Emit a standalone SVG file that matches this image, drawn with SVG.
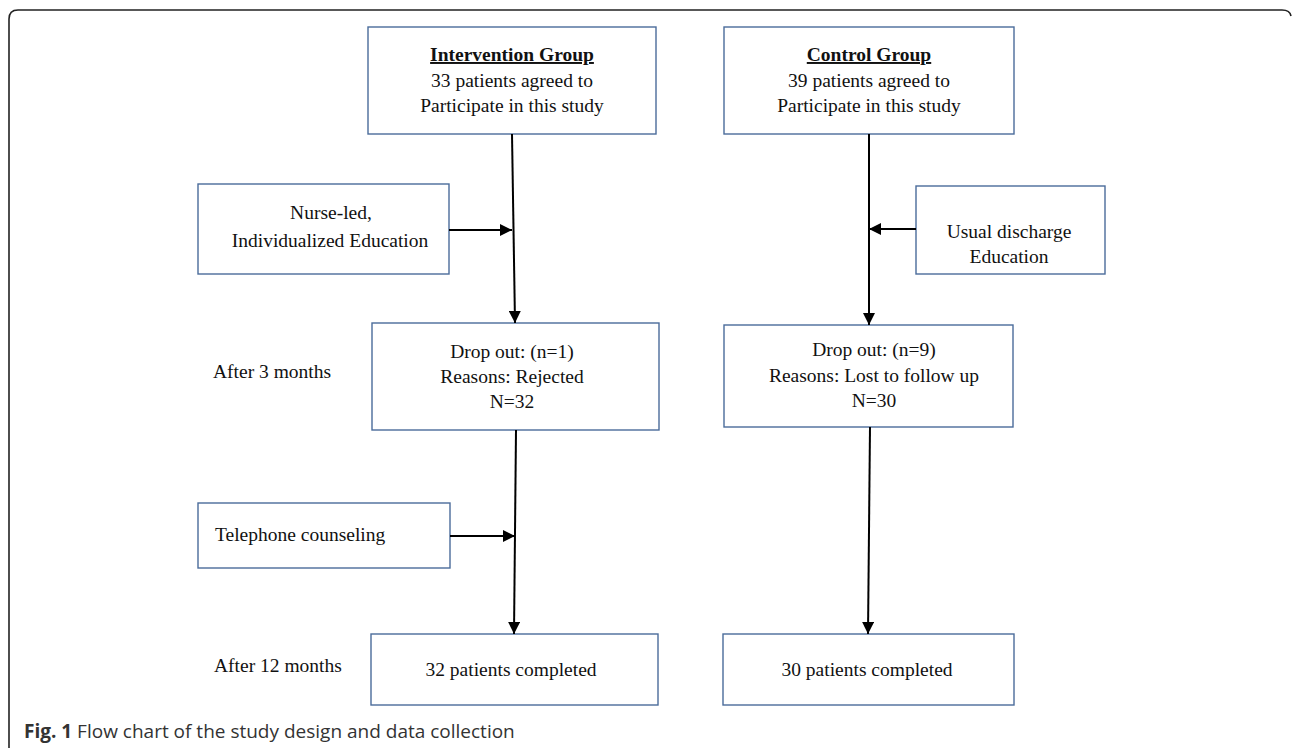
<svg xmlns="http://www.w3.org/2000/svg" width="1292" height="748" viewBox="0 0 1292 748">
<defs>
<style>
.box{fill:#fff;stroke:#4a6c9b;stroke-width:1.4}
.t{font-family:"Liberation Serif","Times New Roman",serif;font-size:19.5px;fill:#111}
.c{text-anchor:middle}
.ln{stroke:#000;stroke-width:2;fill:none}
.cap{font-family:"Open Sans","Noto Sans",sans-serif;font-size:19px;fill:#333}
</style>
<marker id="ah" viewBox="0 0 10 10" refX="10" refY="5" markerWidth="12" markerHeight="12" markerUnits="userSpaceOnUse" orient="auto">
<path d="M0,0 L10,5 L0,10 z" fill="#000"/>
</marker>
</defs>
<rect width="1292" height="748" fill="#fff"/>
<path d="M9,760 L9,19 Q9,10 18,10 L1282,10 Q1290,10 1291,16" fill="none" stroke="#222" stroke-width="1.6"/>

<g id="intervention">
<rect class="box" x="368" y="27" width="288" height="107"/>
<text class="t c" x="512" y="61" font-weight="bold" text-decoration="underline">Intervention Group</text>
<text class="t c" x="512" y="87">33 patients agreed to</text>
<text class="t c" x="512" y="112">Participate in this study</text>
</g>
<g id="control">
<rect class="box" x="724" y="27" width="290" height="107"/>
<text class="t c" x="869" y="61" font-weight="bold" text-decoration="underline">Control Group</text>
<text class="t c" x="869" y="87">39 patients agreed to</text>
<text class="t c" x="869" y="112">Participate in this study</text>
</g>
<g id="nurse">
<rect class="box" x="198" y="184" width="251" height="90"/>
<text class="t c" x="331" y="219">Nurse-led,</text>
<text class="t c" x="330" y="247">Individualized Education</text>
</g>
<g id="usual">
<rect class="box" x="916" y="186" width="189" height="88"/>
<text class="t c" x="1009" y="238">Usual discharge</text>
<text class="t c" x="1009" y="263">Education</text>
</g>
<g id="label3">
<text class="t" x="213" y="378">After 3 months</text>
</g>
<g id="drop1">
<rect class="box" x="372" y="323" width="287" height="107"/>
<text class="t c" x="512" y="358">Drop out: (n=1)</text>
<text class="t c" x="512" y="383">Reasons: Rejected</text>
<text class="t c" x="512" y="408">N=32</text>
</g>
<g id="drop9">
<rect class="box" x="724" y="325" width="289" height="102"/>
<text class="t c" x="874" y="356">Drop out: (n=9)</text>
<text class="t c" x="874" y="382">Reasons: Lost to follow up</text>
<text class="t c" x="874" y="407">N=30</text>
</g>
<g id="telephone">
<rect class="box" x="198" y="503" width="252" height="65"/>
<text class="t" x="215" y="541">Telephone counseling</text>
</g>
<g id="label12">
<text class="t" x="214" y="672">After 12 months</text>
</g>
<g id="complete1">
<rect class="box" x="371" y="634" width="287" height="71"/>
<text class="t c" x="511" y="676">32 patients completed</text>
</g>
<g id="complete2">
<rect class="box" x="723" y="634" width="291" height="71"/>
<text class="t c" x="867" y="676">30 patients completed</text>
</g>

<g id="connectors">
<line class="ln" x1="512" y1="134" x2="515" y2="323" marker-end="url(#ah)"/>
<line class="ln" x1="449" y1="230" x2="512" y2="230" marker-end="url(#ah)"/>
<line class="ln" x1="869" y1="134" x2="869" y2="325" marker-end="url(#ah)"/>
<line class="ln" x1="916" y1="229" x2="869" y2="229" marker-end="url(#ah)"/>
<line class="ln" x1="516" y1="430" x2="514" y2="634" marker-end="url(#ah)"/>
<line class="ln" x1="450" y1="536" x2="515" y2="536" marker-end="url(#ah)"/>
<line class="ln" x1="870" y1="427" x2="868" y2="634" marker-end="url(#ah)"/>
</g>

<text class="cap" x="24" y="738"><tspan font-weight="bold">Fig. 1</tspan> Flow chart of the study design and data collection</text>
</svg>
